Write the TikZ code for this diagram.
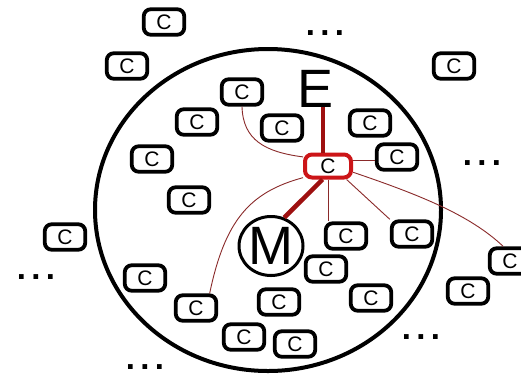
\documentclass[tikz,border=0pt]{standalone}
\usepackage{fontspec}
\setmainfont{Liberation Sans}
\usetikzlibrary{shapes.geometric}
\definecolor{boxred}{HTML}{CC1518}
\definecolor{thickred}{HTML}{9E1010}
\definecolor{thinred}{HTML}{8A2A2A}
\newcommand{\mydots}{.\kern5.3pt.\kern5.3pt.}
\begin{document}
\begin{tikzpicture}[x=1pt,y=-1pt,
  cbox/.style={draw, line width=3.8pt, rounded corners=7pt, minimum width=40.5pt, minimum height=25.5pt, inner sep=0pt, font=\fontsize{21}{21}\selectfont},
  redbox/.style={cbox, draw=boxred, line width=4pt, minimum width=46pt, minimum height=23pt},
  dots/.style={anchor=base, inner sep=0pt, font=\fontsize{33}{33}\selectfont\bfseries},
  bigletter/.style={inner sep=0pt, font=\fontsize{54}{54}\selectfont},
  motor/.style={bigletter, ellipse, draw, line width=3pt, minimum width=64pt, minimum height=59pt},
  thinlink/.style={draw=thinred, line width=0.9pt},
  thicklink/.style={draw=thickred, line width=4.5pt}]
\useasboundingbox (0,0) rectangle (521,376);
\clip (0,0) rectangle (521,376);
\fill[white] (0,0) rectangle (521,376);
% big cell
\draw[line width=4pt] (268,210) ellipse [x radius=173pt, y radius=161pt];
% C boxes
\node[cbox] (c1) at (164,22) {C};
\node[cbox] (c2) at (127,66) {C};
\node[cbox] (c3) at (242,92) {C};
\node[cbox] (c4) at (197,122) {C};
\node[cbox] (c5) at (152,159) {C};
\node[cbox] (c6) at (189,200) {C};
\node[cbox] (c7) at (65,237) {C};
\node[cbox] (c8) at (145,278) {C};
\node[cbox] (c9) at (196,308) {C};
\node[cbox] (c10) at (244,337) {C};
\node[cbox] (c11) at (295,344) {C};
\node[cbox] (c12) at (279,302) {C};
\node[cbox] (c13) at (326,269) {C};
\node[cbox] (c14) at (346,236) {C};
\node[cbox] (c15) at (412,234) {C};
\node[cbox] (c16) at (371,298) {C};
\node[cbox] (c19) at (510,261) {C};
\node[cbox] (c20) at (468,291) {C};
\node[cbox] (c21) at (454,66) {C};
\node[cbox] (c22) at (370,123) {C};
\node[cbox] (c23) at (397,157) {C};
\node[cbox] (c24) at (282,128) {C};
\node[redbox] (red) at (328,166) {C};
% E and M
\node[bigletter, anchor=base] (E) at (316,107) {E};
\node[motor] (M) at (271,246) {M};
% dots
\node[dots] (d1) at (325,35) {\mydots};
\node[dots] (d2) at (482,165) {\mydots};
\node[dots] (d3) at (36,279) {\mydots};
\node[dots] (d4) at (145,369) {\mydots};
\node[dots] (d5) at (421,339) {\mydots};
% thick links
\draw[thicklink] ([xshift=-5pt]red.north) -- ([xshift=-5pt]red.north |- E.south);
\draw[thicklink] (red.248) -- (M.65);
% thin links
\draw[thinlink] (c3.south) .. controls (243,140) and (265,152) .. (red.160);
\draw[thinlink] (red.205) .. controls (250,192) and (225,220) .. (c9.47);
\draw[thinlink] ([yshift=-3pt]c23.west) -- ([yshift=-3pt]c23.west -| red.east);
\draw[thinlink] (red.south) -- (red.south |- c14.north);
\draw[thinlink] (red.-36) -- (c15.north west);
\draw[thinlink] (red.-14) .. controls (420,195) and (470,215) .. (c19.115);
\end{tikzpicture}
\end{document}
